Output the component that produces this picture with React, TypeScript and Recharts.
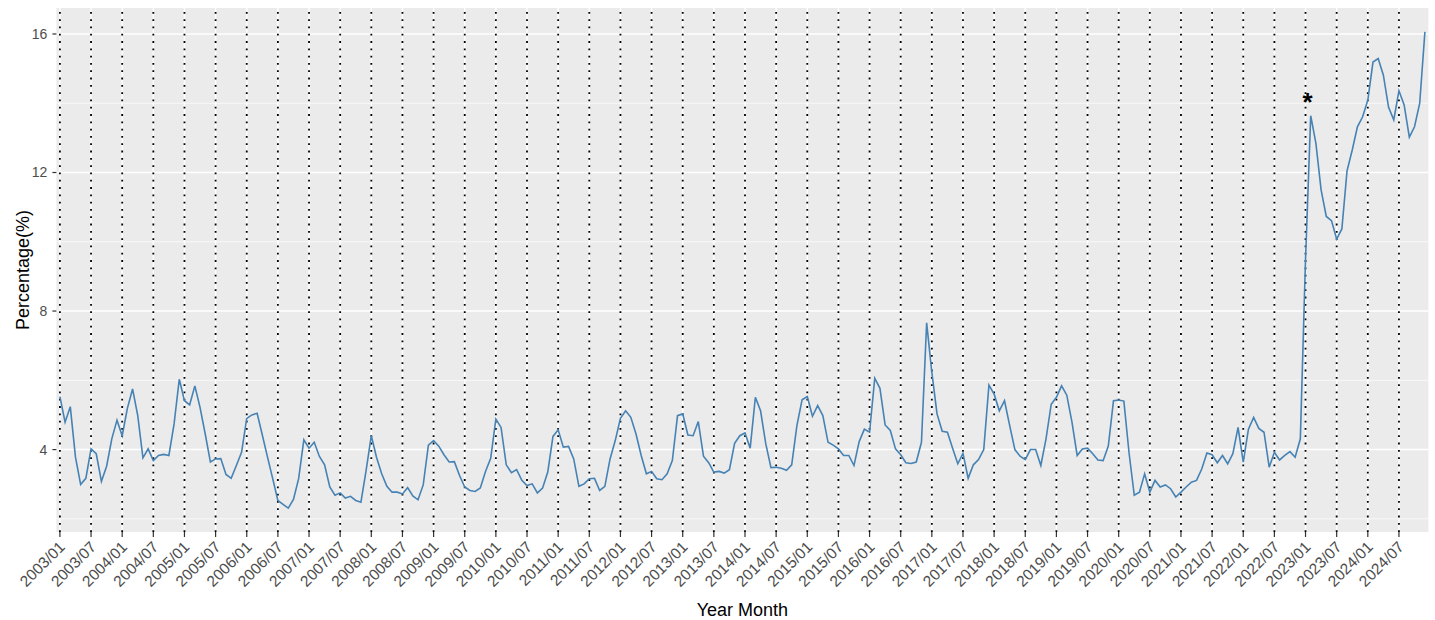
import React from 'react';
import { LineChart, Line, XAxis, YAxis, CartesianGrid, ReferenceLine, ReferenceDot } from 'recharts';

// monthly share (%), 2003/01 .. 2024/12, one row per year
const START_YEAR = 2003;
const pct: number[] = [
  5.53, 4.79, 5.24, 3.78, 2.99, 3.17, 4.02, 3.88, 3.08, 3.52, 4.31, 4.85, // 2003
  4.40, 5.19, 5.75, 4.98, 3.76, 4.02, 3.68, 3.83, 3.86, 3.83, 4.74, 6.03, // 2004
  5.41, 5.29, 5.84, 5.22, 4.45, 3.64, 3.73, 3.74, 3.28, 3.17, 3.54, 3.92, // 2005
  4.90, 5.00, 5.05, 4.42, 3.78, 3.16, 2.53, 2.42, 2.31, 2.56, 3.16, 4.28, // 2006
  4.04, 4.21, 3.80, 3.56, 2.92, 2.68, 2.75, 2.60, 2.65, 2.53, 2.48, 3.40, // 2007
  4.40, 3.78, 3.30, 2.94, 2.77, 2.77, 2.72, 2.90, 2.66, 2.55, 2.98, 4.13, // 2008
  4.26, 4.10, 3.85, 3.64, 3.65, 3.25, 2.92, 2.82, 2.79, 2.89, 3.37, 3.75, // 2009
  4.88, 4.64, 3.56, 3.33, 3.42, 3.11, 2.96, 3.01, 2.75, 2.89, 3.35, 4.38, // 2010
  4.57, 4.07, 4.09, 3.73, 2.94, 3.01, 3.16, 3.17, 2.82, 2.94, 3.73, 4.26, // 2011
  4.90, 5.12, 4.93, 4.45, 3.83, 3.30, 3.37, 3.16, 3.13, 3.30, 3.68, 4.98, // 2012
  5.03, 4.42, 4.40, 4.81, 3.81, 3.62, 3.35, 3.37, 3.32, 3.42, 4.18, 4.40, // 2013
  4.48, 4.04, 5.51, 5.12, 4.17, 3.48, 3.49, 3.46, 3.40, 3.56, 4.69, 5.44, // 2014
  5.53, 4.96, 5.27, 4.98, 4.21, 4.13, 4.02, 3.83, 3.83, 3.54, 4.23, 4.59, // 2015
  4.50, 6.06, 5.77, 4.71, 4.55, 4.02, 3.85, 3.62, 3.60, 3.64, 4.21, 7.66, // 2016
  6.23, 5.03, 4.53, 4.50, 4.04, 3.59, 3.89, 3.17, 3.56, 3.71, 4.00, 5.86, // 2017
  5.60, 5.12, 5.41, 4.69, 4.00, 3.81, 3.71, 4.00, 4.00, 3.54, 4.31, 5.31, // 2018
  5.51, 5.84, 5.57, 4.79, 3.83, 4.02, 4.04, 3.88, 3.70, 3.68, 4.10, 5.41, // 2019
  5.43, 5.40, 3.90, 2.68, 2.77, 3.30, 2.77, 3.11, 2.92, 2.98, 2.87, 2.63, // 2020
  2.77, 2.92, 3.06, 3.11, 3.44, 3.90, 3.85, 3.62, 3.83, 3.59, 3.88, 4.64, // 2021
  3.64, 4.59, 4.93, 4.61, 4.50, 3.49, 3.92, 3.70, 3.83, 3.94, 3.78, 4.31, // 2022
  9.50, 13.64, 12.84, 11.50, 10.73, 10.61, 10.08, 10.37, 12.05, 12.65, 13.32, 13.61, // 2023
  14.09, 15.19, 15.29, 14.81, 13.88, 13.52, 14.36, 13.95, 13.02, 13.32, 14.00, 16.06, // 2024
];

const months = pct.map((_, i) => `${START_YEAR + Math.floor(i / 12)}/${String((i % 12) + 1).padStart(2, '0')}`);
const tickMonths = months.filter((_, i) => i % 6 === 0);
const majorY = [4, 8, 12, 16];
const minorY = [2, 6, 10, 14];
const starMonth = '2023/01';
const starY = 14.2;

const data = months.map((m, i) => ({ month: m, pct: pct[i] }));

const FONT = '"Liberation Sans", Arial, sans-serif';

const XTick = (props: any) => {
  const { x, y, payload } = props;
  const px = x + 6;
  const py = y + 11;
  return (
    <text x={px} y={py} textAnchor="end" fontSize={15.5} fill="#4D4D4D" fontFamily={FONT}
      transform={`rotate(-45 ${px} ${py})`}>
      {payload.value}
    </text>
  );
};

const Star = (props: any) => (
  <text x={props.cx + 2} y={props.cy + 15} textAnchor="middle" fontSize={26} fontWeight="bold" fill="#000" fontFamily={FONT}>*</text>
);

export default function App() {
  return (
    <div style={{ position: 'absolute', left: 0, top: 0, width: 1435, height: 620, background: '#fff', fontFamily: FONT }}>
      <LineChart width={1435} height={620} data={data} margin={{ top: 8, right: 6.6, bottom: 0, left: 0 }}>
        <CartesianGrid fill="#EBEBEB" horizontal={false} vertical={false} />
        {minorY.map((v) => (
          <ReferenceLine key={'mi' + v} y={v} stroke="#fff" strokeWidth={0.7} />
        ))}
        {majorY.map((v) => (
          <ReferenceLine key={'ma' + v} y={v} stroke="#fff" strokeWidth={1.4} />
        ))}
        {tickMonths.map((m) => (
          <ReferenceLine key={'vw' + m} x={m} stroke="#fff" strokeWidth={1.4} />
        ))}
        {tickMonths.map((m) => (
          <ReferenceLine key={'vd' + m} x={m} stroke="#000" strokeWidth={1.8} strokeDasharray="1.8 5.5" />
        ))}
        <XAxis
          dataKey="month"
          interval={5}
          height={88}
          padding={{ left: 3.5, right: 3.5 }}
          axisLine={false}
          tickLine={{ stroke: '#333333', strokeWidth: 1.2 }}
          tickSize={5}
          tickMargin={0}
          tick={<XTick />}
          label={{
            content: (p: any) => (
              <text x={p.viewBox.x + p.viewBox.width / 2} y={615.5} textAnchor="middle" fontSize={18} fill="#000" fontFamily={FONT}>
                Year Month
              </text>
            ),
          }}
        />
        <YAxis
          width={56.4}
          domain={[1.62, 16.75]}
          ticks={majorY}
          allowDataOverflow
          axisLine={false}
          tickLine={{ stroke: '#333333', strokeWidth: 1.2 }}
          tickSize={4}
          tickMargin={5}
          tick={{ fontSize: 14, fill: '#4D4D4D', fontFamily: FONT }}
          label={{
            content: (p: any) => {
              const cx = 23;
              const cy = p.viewBox.y + p.viewBox.height / 2;
              return (
                <text x={cx} y={cy} textAnchor="middle" dominantBaseline="central" fontSize={18} fill="#000" fontFamily={FONT}
                  transform={`rotate(-90 ${cx} ${cy})`}>
                  Percentage(%)
                </text>
              );
            },
          }}
        />
        <Line type="linear" dataKey="pct" stroke="#4682B4" strokeWidth={1.6} dot={false} isAnimationActive={false} />
        <ReferenceDot x={starMonth} y={starY} r={0} shape={<Star />} />
      </LineChart>
    </div>
  );
}
